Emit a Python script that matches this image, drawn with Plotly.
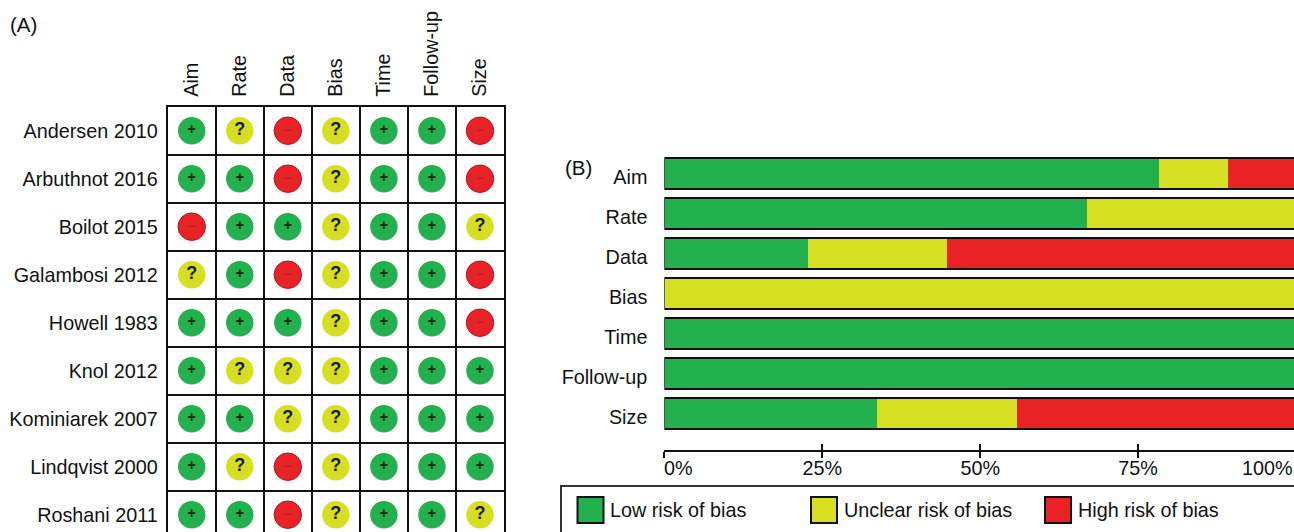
import plotly.graph_objects as go

W, H = 1294, 532
FONT = "Liberation Sans"
FS = 19.8

studies = ["Andersen 2010", "Arbuthnot 2016", "Boilot 2015", "Galambosi 2012", "Howell 1983",
           "Knol 2012", "Kominiarek 2007", "Lindqvist 2000", "Roshani 2011"]
domains = ["Aim", "Rate", "Data", "Bias", "Time", "Follow-up", "Size"]

andersen = ["+", "?", "-", "?", "+", "+", "-"]
arbuthnot = ["+", "+", "-", "?", "+", "+", "-"]
boilot = ["-", "+", "+", "?", "+", "+", "?"]
galambosi = ["?", "+", "-", "?", "+", "+", "-"]
howell = ["+", "+", "+", "?", "+", "+", "-"]
knol = ["+", "?", "?", "?", "+", "+", "+"]
kominiarek = ["+", "+", "?", "?", "+", "+", "+"]
lindqvist = ["+", "?", "-", "?", "+", "+", "+"]
roshani = ["+", "+", "-", "?", "+", "+", "?"]
judgements = [andersen, arbuthnot, boilot, galambosi, howell, knol, kominiarek, lindqvist, roshani]

low_pct = [78.3, 66.9, 22.7, 0, 100, 100, 33.7]
unclear_pct = [10.9, 33.1, 22.1, 100, 0, 0, 22.1]
high_pct = [10.8, 0, 55.2, 0, 0, 0, 44.2]
total_pct = [100, 100, 100, 100, 100, 100, 100]
pct_ticks = [0, 25, 50, 75, 100]
pct_labels = ["0%", "25%", "50%", "75%", "100%"]
legend_labels = ["Low risk of bias", "Unclear risk of bias", "High risk of bias"]

GREEN, YELLOW, RED = "#22B14C", "#D7DF23", "#EA2226"
BLACK = "#111111"
TXT = "#111111"
styles = {
    "+": dict(name="Low", color=GREEN, line="rgba(0,0,0,0)", txt="+", tc="#06200c", ts=14),
    "?": dict(name="Unclear", color=YELLOW, line="rgba(0,0,0,0)", txt="?", tc="#1a1a10", ts=18),
    "-": dict(name="High", color=RED, line="#B3161B", txt="−", tc="#A5282B", ts=12),
}

fig = go.Figure()

for key, st in styles.items():
    xs, ys = [], []
    for r, row in enumerate(judgements):
        for c, v in enumerate(row):
            if v == key:
                xs.append(c)
                ys.append(r)
    fig.add_trace(go.Scatter(
        x=xs, y=ys, xaxis="x", yaxis="y", mode="markers+text", name=st["name"],
        marker=dict(size=27.5, color=st["color"], line=dict(color=st["line"], width=1)),
        text=[st["txt"]] * len(xs), textposition="middle center",
        textfont=dict(family=FONT, size=st["ts"], color=st["tc"], weight="bold"),
        showlegend=False, hoverinfo="skip"))

for vals, col, name in [(low_pct, GREEN, "Low"), (unclear_pct, YELLOW, "Unclear"), (high_pct, RED, "High")]:
    fig.add_trace(go.Bar(x=vals, y=domains, orientation="h", xaxis="x2", yaxis="y2", name=name,
                         marker=dict(color=col, line=dict(width=0)), showlegend=False, hoverinfo="skip"))

fig.add_trace(go.Bar(x=total_pct, y=domains, orientation="h", xaxis="x3", yaxis="y3", name="Total",
                     marker=dict(color="rgba(0,0,0,0)", line=dict(color=BLACK, width=2)),
                     cliponaxis=False, showlegend=False, hoverinfo="skip"))


def px(v):
    return v / W


def py(v):
    return 1 - v / H


# panel B geometry
X0, X100 = 664.4, 1296.0
xr = [0, (W - X0) / (X100 - X0) * 100]
yr = [(450 - 173.5) / 40, -0.5125]
bdom = [py(450), py(153)]
xd = [px(X0), 1]

grid_x = [i - 0.5 for i in range(len(domains) + 1)]
grid_y = [i - 0.5 for i in range(len(studies) + 1)]
grid = dict(tickmode="array", showgrid=True, gridcolor=BLACK, gridwidth=2, ticklen=0)

fig.update_layout(
    width=W, height=H, margin=dict(l=0, r=0, t=0, b=0, pad=0, autoexpand=False),
    paper_bgcolor="white", plot_bgcolor="rgba(0,0,0,0)", barmode="stack", bargap=0.22,
    font=dict(family=FONT, color=TXT, size=FS),
    xaxis=dict(domain=[px(167.7), px(504)], range=[-0.5, 6.5], side="top", anchor="y", automargin=False,
               tickmode="array", tickvals=list(range(7)), ticktext=domains, tickangle=-90,
               showgrid=False, zeroline=False, showline=True, linecolor=BLACK, linewidth=2,
               ticks="", ticklabelstandoff=4, tickfont=dict(size=FS),
               minor=dict(tickvals=grid_x, **grid)),
    yaxis=dict(domain=[0, py(106.7)], range=[(H - 130.7) / 48, -0.5], anchor="x", automargin=False,
               tickmode="array", tickvals=list(range(9)), ticktext=studies,
               showgrid=False, zeroline=False, showline=True, mirror=True, linecolor=BLACK, linewidth=2,
               ticks="", ticklabelstandoff=4, tickfont=dict(size=FS),
               minor=dict(tickvals=grid_y, **grid)),
    xaxis2=dict(domain=xd, range=xr, anchor="y2", automargin=False, tickmode="array", tickvals=pct_ticks,
                ticktext=["", pct_labels[1], pct_labels[2], pct_labels[3], ""],
                showgrid=False, zeroline=False, showline=True, linecolor=BLACK, linewidth=2,
                ticks="outside", ticklen=6, tickwidth=2, tickcolor=BLACK, ticklabelstandoff=-7,
                tickfont=dict(size=FS)),
    yaxis2=dict(domain=bdom, range=yr, anchor="x2", automargin=False, type="category", categoryorder="array",
                categoryarray=domains, showgrid=False, zeroline=False, showline=False, ticks="",
                ticklabelstandoff=16, ticklabelshift=-4, tickfont=dict(size=FS)),
    xaxis3=dict(domain=xd, range=xr, anchor="y3", overlaying="x2", automargin=False, tickmode="array",
                tickvals=pct_ticks, showticklabels=False, showgrid=False, zeroline=False, showline=False,
                ticks="inside", ticklen=6, tickwidth=2, tickcolor=BLACK),
    yaxis3=dict(domain=bdom, range=yr, anchor="x3", overlaying="y2", automargin=False, type="category",
                categoryorder="array", categoryarray=domains, showticklabels=False, showgrid=False,
                zeroline=False, showline=False, ticks=""),
)

shapes = [dict(type="rect", xref="paper", yref="paper", x0=px(561), x1=px(1310), y0=py(560), y1=py(486),
               line=dict(color="#333333", width=2), fillcolor="rgba(0,0,0,0)")]


def note(text, x, y, anchor="left", size=FS):
    return dict(text=text, x=px(x), y=py(y), xref="paper", yref="paper", xanchor=anchor, yanchor="middle",
                showarrow=False, borderpad=0, font=dict(size=size))


annotations = [
    note("(A)", 9, 24, size=20.5),
    note("(B)", 564, 167, size=20.5),
    note(pct_labels[0], X0 - 1, 468),
    note(pct_labels[4], 1294, 468, anchor="right"),
]
for sx, col, label in zip([577.5, 811, 1045], [GREEN, YELLOW, RED], legend_labels):
    shapes.append(dict(type="rect", xref="paper", yref="paper", x0=px(sx), x1=px(sx + 26), y0=py(523), y1=py(497),
                       line=dict(color=BLACK, width=2), fillcolor=col))
    annotations.append(note(label, sx + 31.5, 510))
fig.update_layout(shapes=shapes, annotations=annotations)

fig.write_html("out.html", config=dict(displayModeBar=False),
               post_script="document.body.style.margin='0';document.body.style.overflow='hidden';")
